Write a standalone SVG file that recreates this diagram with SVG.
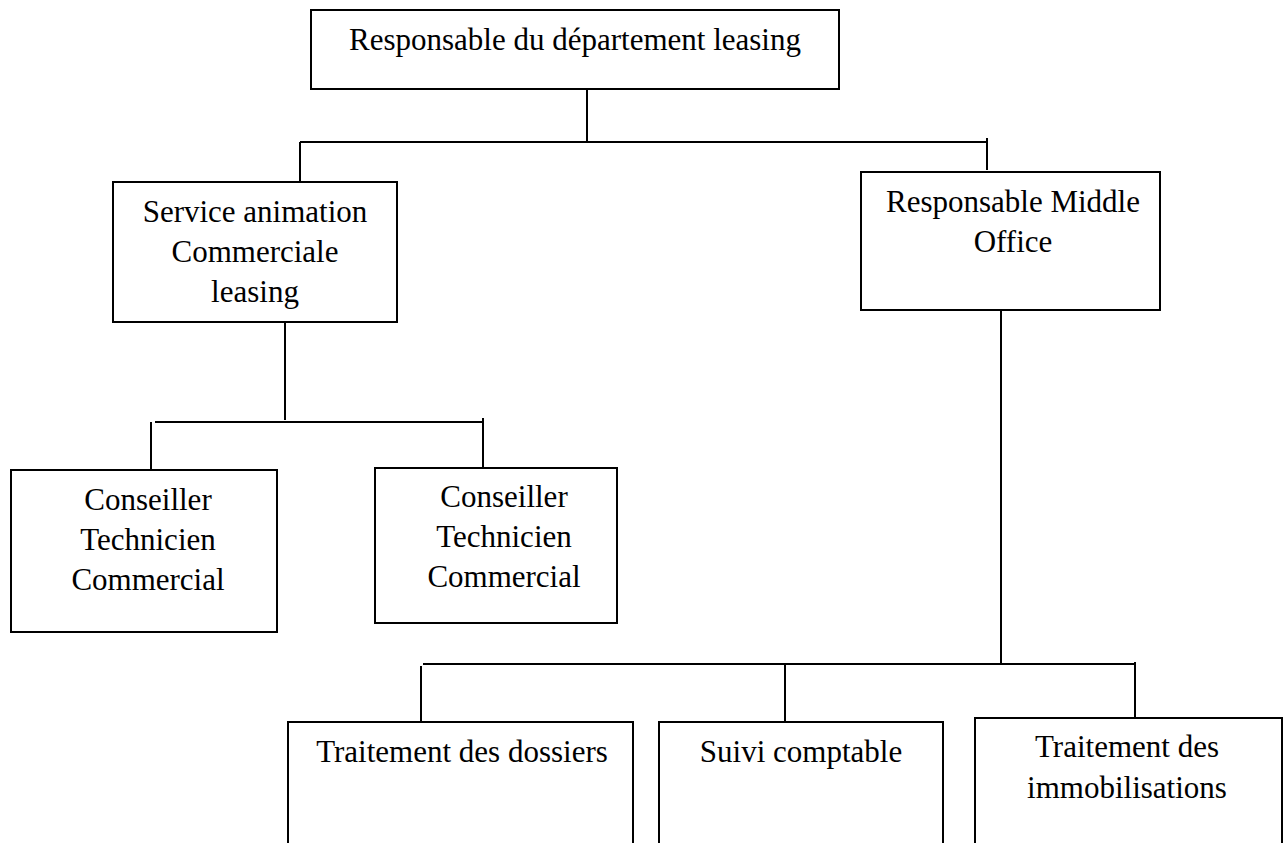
<svg xmlns="http://www.w3.org/2000/svg" width="1288" height="843" viewBox="0 0 1288 843">
<style>
.box{fill:#fff;stroke:#000;stroke-width:2}
.ln{stroke:#000;stroke-width:2;fill:none}
text{font-family:"Liberation Serif","Times New Roman",serif;font-size:31px;fill:#000;text-anchor:middle}
</style>
<rect width="1288" height="843" fill="#fff"/>
<g id="connectors">
<line class="ln" x1="587" y1="89" x2="587" y2="142"/>
<line class="ln" x1="300" y1="142" x2="987" y2="142"/>
<line class="ln" x1="300" y1="142" x2="300" y2="182"/>
<line class="ln" x1="987" y1="138" x2="987" y2="170"/>
<line class="ln" x1="285" y1="322" x2="285" y2="420"/>
<line class="ln" x1="155" y1="422" x2="483" y2="422"/>
<line class="ln" x1="151" y1="422" x2="151" y2="470"/>
<line class="ln" x1="483" y1="418" x2="483" y2="468"/>
<line class="ln" x1="1001" y1="310" x2="1001" y2="665"/>
<line class="ln" x1="423" y1="664" x2="1135" y2="664"/>
<line class="ln" x1="421" y1="666" x2="421" y2="722"/>
<line class="ln" x1="785" y1="665" x2="785" y2="722"/>
<line class="ln" x1="1135" y1="662" x2="1135" y2="718"/>
</g>
<g id="n-top">
<rect class="box" x="311" y="10" width="528" height="79"/>
<text x="575" y="50">Responsable du département leasing</text>
</g>
<g id="n-service">
<rect class="box" x="113" y="182" width="284" height="140"/>
<text x="255" y="222">Service animation</text>
<text x="255" y="262">Commerciale</text>
<text x="255" y="302">leasing</text>
</g>
<g id="n-middle">
<rect class="box" x="861" y="172" width="299" height="138"/>
<text x="1013" y="212">Responsable Middle</text>
<text x="1013" y="252">Office</text>
</g>
<g id="n-conseiller1">
<rect class="box" x="11" y="470" width="266" height="162"/>
<text x="148" y="510">Conseiller</text>
<text x="148" y="550">Technicien</text>
<text x="148" y="590">Commercial</text>
</g>
<g id="n-conseiller2">
<rect class="box" x="375" y="468" width="242" height="155"/>
<text x="504" y="507">Conseiller</text>
<text x="504" y="547">Technicien</text>
<text x="504" y="587">Commercial</text>
</g>
<g id="n-dossiers">
<rect class="box" x="288" y="722" width="345" height="140"/>
<text x="462" y="762">Traitement des dossiers</text>
</g>
<g id="n-suivi">
<rect class="box" x="659" y="722" width="284" height="140"/>
<text x="801" y="762">Suivi comptable</text>
</g>
<g id="n-immo">
<rect class="box" x="975" y="718" width="307" height="144"/>
<text x="1127" y="757">Traitement des</text>
<text x="1127" y="798">immobilisations</text>
</g>
</svg>
